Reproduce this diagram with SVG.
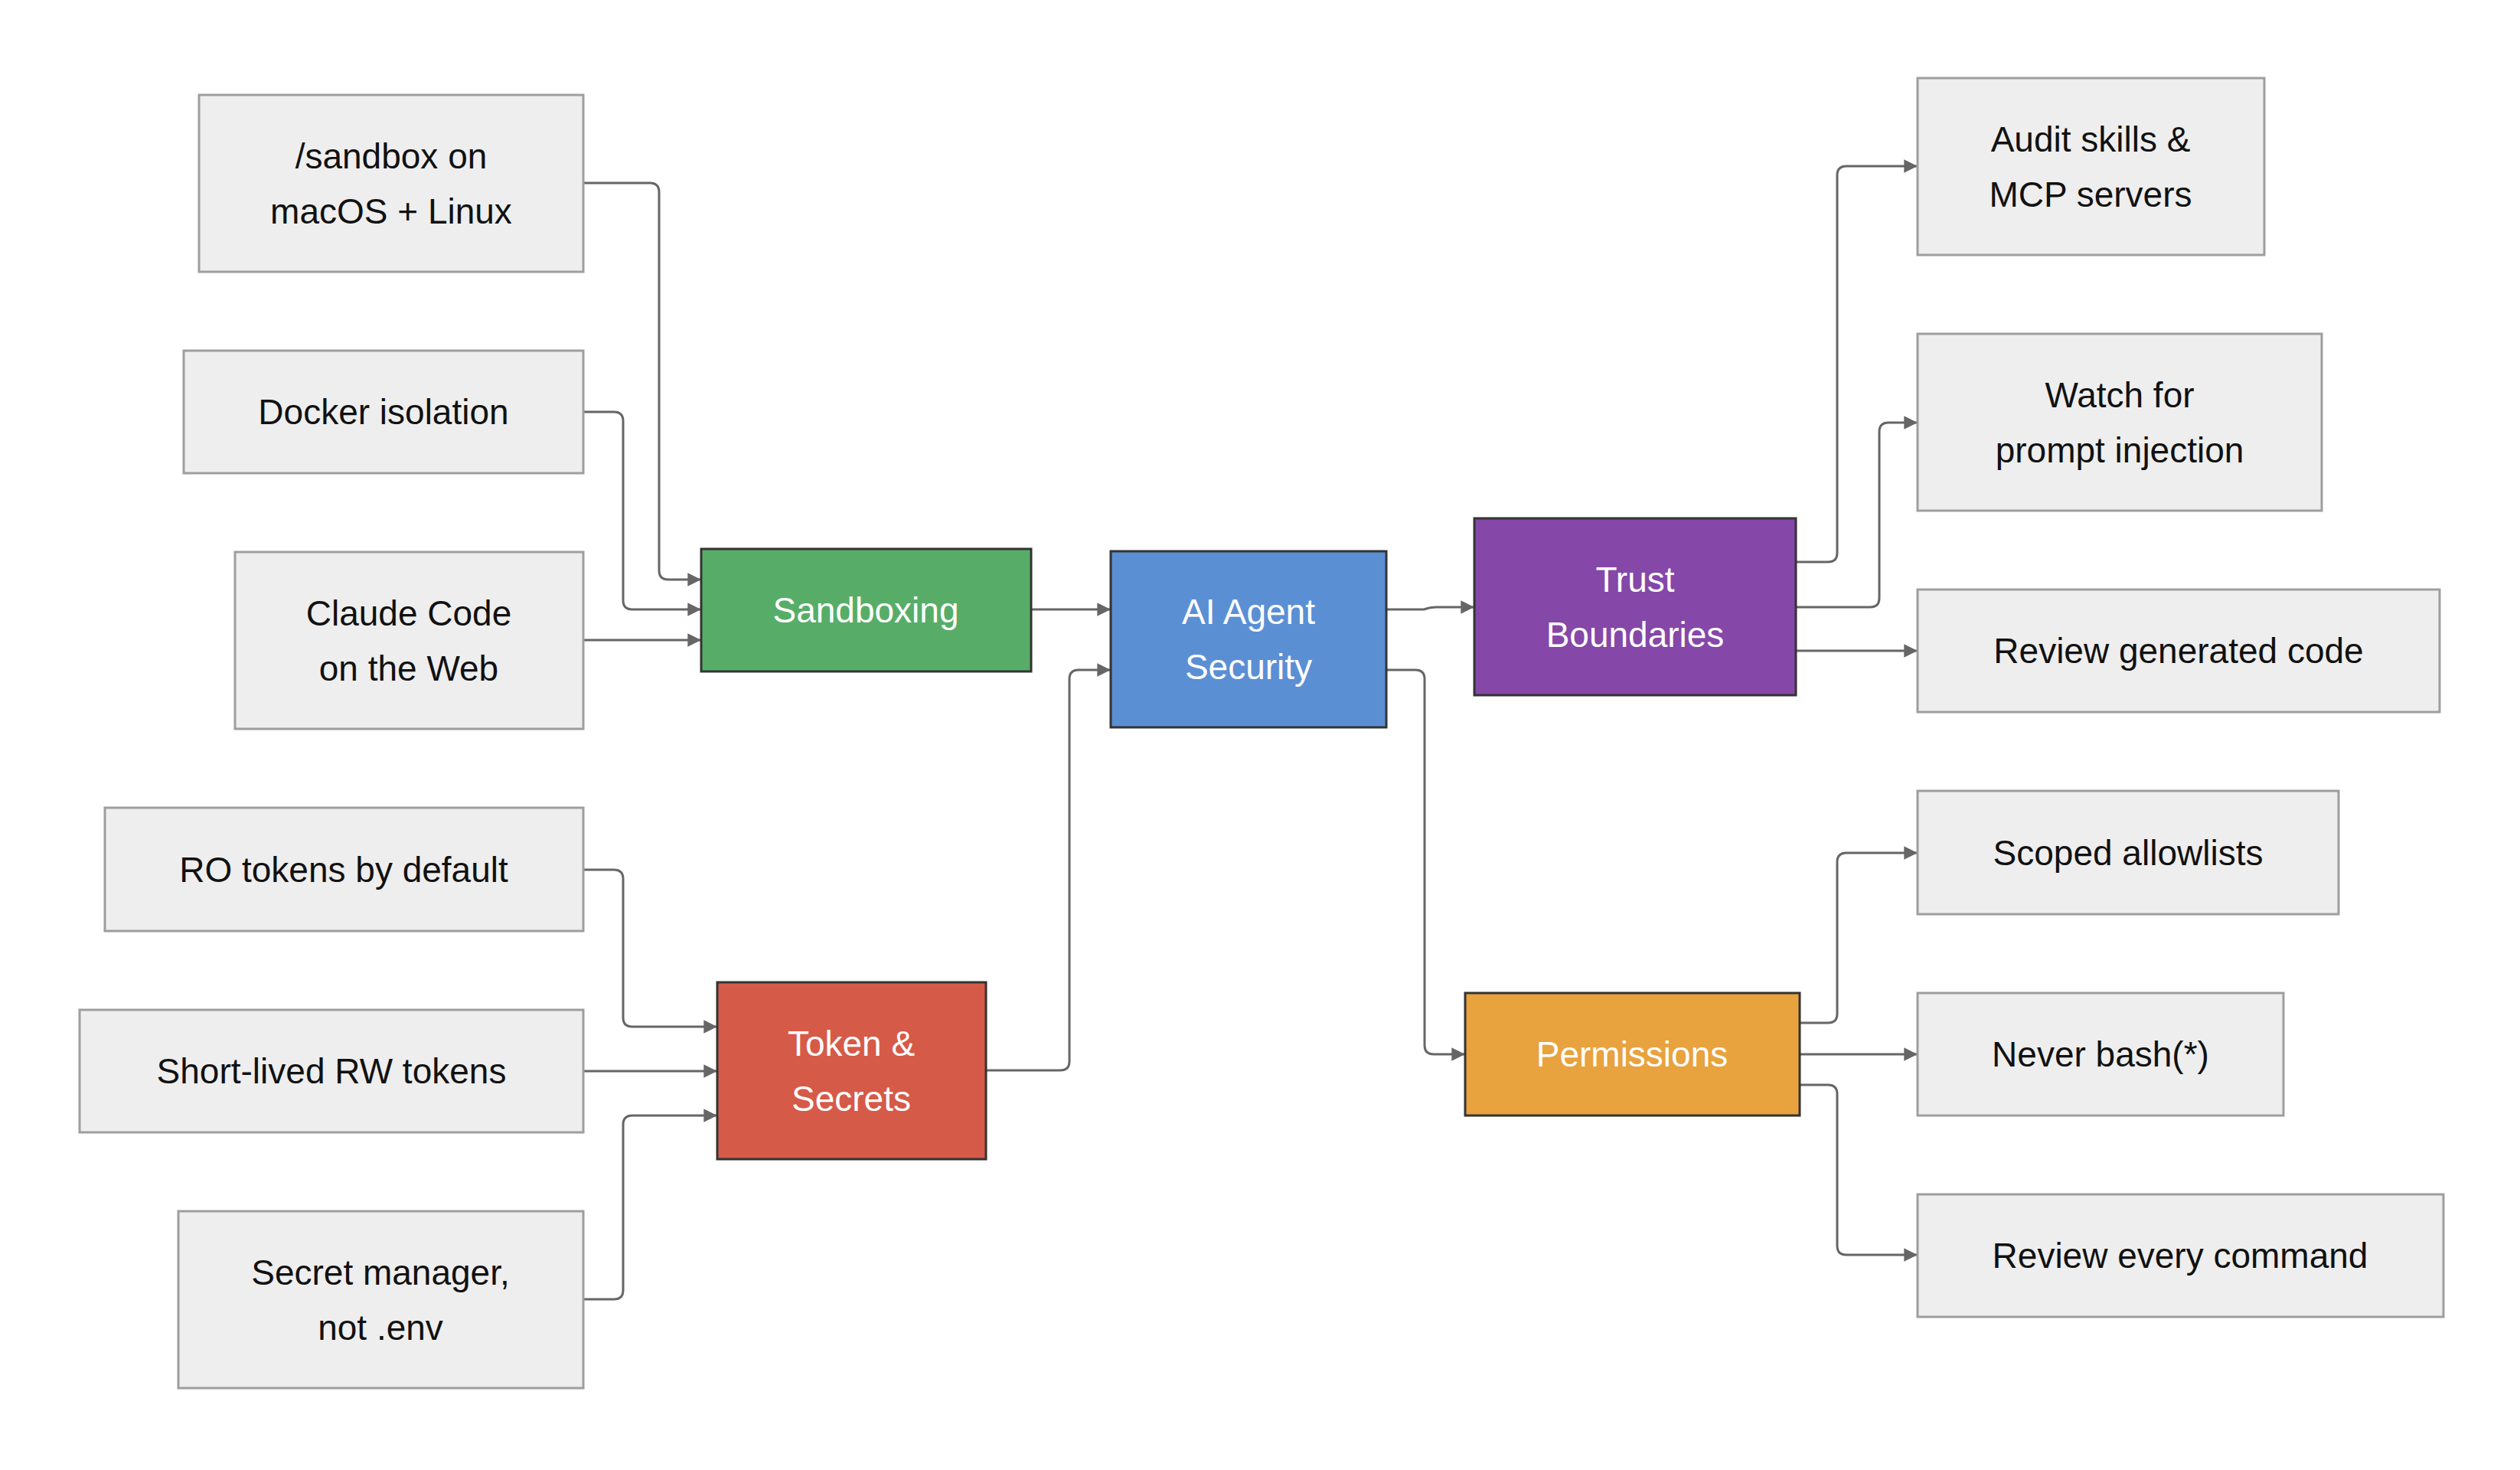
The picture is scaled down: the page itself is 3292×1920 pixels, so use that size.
<svg xmlns="http://www.w3.org/2000/svg" width="3292" height="1920" viewBox="0 0 3292 1920">
<style>
.leaf rect{fill:#eeeeee;stroke:#9e9e9e;stroke-width:3}
.hub rect{stroke:#333333;stroke-width:3}
text{font-family:"Liberation Sans",Arial,sans-serif;font-size:46px;text-anchor:middle;dominant-baseline:central}
.leaf text{fill:#111111}
.hub text{fill:#ffffff}
.conn path{fill:none;stroke:#666666;stroke-width:3;marker-end:url(#arr)}
</style>
<defs>
<marker id="arr" viewBox="0 0 10 10" refX="10" refY="5" markerWidth="8" markerHeight="8" markerUnits="userSpaceOnUse" orient="auto" style="overflow:visible">
<path d="M0,0 L10,5 L0,10 z" fill="#666666" transform="scale(2.2) translate(-5.5,-2.7)"/>
</marker>
</defs>
<rect width="3292" height="1920" fill="#ffffff"/>
<g class="conn">
<path d="M762,239 H849 Q861,239 861,251 V745 Q861,757 873,757 H916"/>
<path d="M762,538 H802 Q814,538 814,550 V784 Q814,796 826,796 H916"/>
<path d="M762,836 H916"/>
<path d="M1347,796 H1451"/>
<path d="M1288,1398 H1385 Q1397,1398 1397,1386 V887 Q1397,875 1409,875 H1451"/>
<path d="M1811,796 H1860 Q1868,793 1876,793 H1926"/>
<path d="M1811,875 H1849 Q1861,875 1861,887 V1365 Q1861,1377 1873,1377 H1914"/>
<path d="M2346,734 H2388 Q2400,734 2400,722 V229 Q2400,217 2412,217 H2505"/>
<path d="M2346,793 H2443 Q2455,793 2455,781 V564 Q2455,552 2467,552 H2505"/>
<path d="M2346,850 H2505"/>
<path d="M2351,1336 H2388 Q2400,1336 2400,1324 V1126 Q2400,1114 2412,1114 H2505"/>
<path d="M2351,1377 H2505"/>
<path d="M2351,1417 H2388 Q2400,1417 2400,1429 V1627 Q2400,1639 2412,1639 H2505"/>
<path d="M762,1136 H802 Q814,1136 814,1148 V1329 Q814,1341 826,1341 H937"/>
<path d="M762,1399 H937"/>
<path d="M762,1697 H802 Q814,1697 814,1685 V1469 Q814,1457 826,1457 H937"/>
</g>
<g id="sandbox-os" class="leaf"><rect x="260" y="124" width="502" height="231"/><text x="511" y="204">/sandbox on</text><text x="511" y="276">macOS + Linux</text></g>
<g id="docker" class="leaf"><rect x="240" y="458" width="522" height="160"/><text x="501" y="538">Docker isolation</text></g>
<g id="claude-web" class="leaf"><rect x="307" y="721" width="455" height="231"/><text x="534" y="801">Claude Code</text><text x="534" y="873">on the Web</text></g>
<g id="sandboxing" class="hub"><rect x="916" y="717" width="431" height="160" fill="#57ad68"/><text x="1131" y="797">Sandboxing</text></g>
<g id="ai-security" class="hub"><rect x="1451" y="720" width="360" height="230" fill="#5b8fd4"/><text x="1631" y="799">AI Agent</text><text x="1631" y="871">Security</text></g>
<g id="trust" class="hub"><rect x="1926" y="677" width="420" height="231" fill="#8547a8"/><text x="2136" y="757">Trust</text><text x="2136" y="829">Boundaries</text></g>
<g id="audit" class="leaf"><rect x="2505" y="102" width="453" height="231"/><text x="2731" y="182">Audit skills &amp;</text><text x="2731" y="254">MCP servers</text></g>
<g id="watch" class="leaf"><rect x="2505" y="436" width="528" height="231"/><text x="2769" y="516">Watch for</text><text x="2769" y="588">prompt injection</text></g>
<g id="review-code" class="leaf"><rect x="2505" y="770" width="682" height="160"/><text x="2846" y="850">Review generated code</text></g>
<g id="ro-tokens" class="leaf"><rect x="137" y="1055" width="625" height="161"/><text x="449" y="1136">RO tokens by default</text></g>
<g id="rw-tokens" class="leaf"><rect x="104" y="1319" width="658" height="160"/><text x="433" y="1399">Short-lived RW tokens</text></g>
<g id="secret-mgr" class="leaf"><rect x="233" y="1582" width="529" height="231"/><text x="497" y="1662">Secret manager,</text><text x="497" y="1734">not .env</text></g>
<g id="tokens" class="hub"><rect x="937" y="1283" width="351" height="231" fill="#d65a48"/><text x="1112" y="1363">Token &amp;</text><text x="1112" y="1435">Secrets</text></g>
<g id="permissions" class="hub"><rect x="1914" y="1297" width="437" height="160" fill="#e8a23e"/><text x="2132" y="1377">Permissions</text></g>
<g id="scoped" class="leaf"><rect x="2505" y="1033" width="550" height="161"/><text x="2780" y="1114">Scoped allowlists</text></g>
<g id="never-bash" class="leaf"><rect x="2505" y="1297" width="478" height="160"/><text x="2744" y="1377">Never bash(*)</text></g>
<g id="review-cmd" class="leaf"><rect x="2505" y="1560" width="687" height="160"/><text x="2848" y="1640">Review every command</text></g>
</svg>
